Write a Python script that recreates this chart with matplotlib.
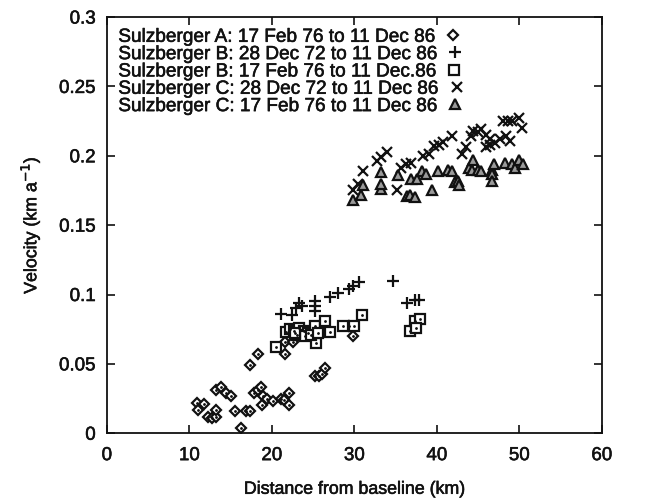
import matplotlib
matplotlib.use('Agg')
import matplotlib.pyplot as plt
import matplotlib.patheffects as pe
import numpy as np

plt.rcParams['font.family'] = ['Liberation Sans', 'DejaVu Sans']

# Sulzberger A: 17 Feb 76 to 11 Dec 86 (diamonds)
a_x = [10.9, 11.8, 11.1, 12.2, 12.7, 13.2, 13.2, 13.2, 13.8, 14.4, 15.1, 15.5, 16.3,
       16.9, 17.4, 17.3, 18.3, 17.8, 18.3, 18.7, 18.9, 18.8, 19.4, 20.1, 21.1, 21.5,
       22.1, 22.1, 21.6, 21.6, 22.5, 25.2, 25.7, 26.1, 26.5, 29.3, 29.8]
a_v = [0.022, 0.021, 0.017, 0.012, 0.011, 0.012, 0.017, 0.031, 0.033, 0.029, 0.027,
       0.016, 0.004, 0.016, 0.016, 0.049, 0.057, 0.029, 0.031, 0.033, 0.027, 0.020,
       0.025, 0.023, 0.025, 0.024, 0.029, 0.020, 0.057, 0.066, 0.066, 0.041, 0.041,
       0.043, 0.047, 0.077, 0.070]

# Sulzberger B: 28 Dec 72 to 11 Dec 86 (plus)
b1_x = [21.1, 22.4, 22.9, 23.3, 23.6, 25.2, 25.2, 25.2, 27.0, 28.0, 29.3, 29.8, 30.6,
        34.7, 36.4, 37.4, 37.8]
b1_v = [0.086, 0.085, 0.090, 0.094, 0.092, 0.095, 0.092, 0.088, 0.098, 0.101, 0.104,
        0.106, 0.109, 0.110, 0.094, 0.096, 0.096]

# Sulzberger B: 17 Feb 76 to 11 Dec 86 (squares)
b2_x = [20.5, 21.7, 22.2, 22.7, 23.3, 23.9, 24.4, 25.2, 25.4, 26.5, 27.0, 28.6, 30.0,
        30.9, 36.7, 37.3, 38.0, 37.5, 23.0, 24.0, 24.8, 25.6, 22.8]
b2_v = [0.062, 0.073, 0.075, 0.074, 0.076, 0.074, 0.072, 0.077, 0.065, 0.081, 0.073,
        0.077, 0.077, 0.085, 0.074, 0.081, 0.082, 0.076, 0.071, 0.070, 0.071, 0.072,
        0.072]

# Sulzberger C: 28 Dec 72 to 11 Dec 86 (x)
c1_x = [29.8, 30.4, 31.0, 32.8, 33.2, 33.9, 35.2, 35.6, 36.2, 36.9, 38.3, 39.0, 39.7,
        40.3, 40.7, 41.8, 43.1, 43.5, 44.1, 44.4, 45.0, 45.4, 45.9, 46.5, 45.9, 46.5,
        47.1, 47.6, 48.4, 48.9, 48.0, 48.6, 49.1, 50.0, 50.3]
c1_v = [0.175, 0.180, 0.189, 0.196, 0.199, 0.203, 0.175, 0.191, 0.194, 0.195, 0.200,
        0.201, 0.207, 0.208, 0.210, 0.214, 0.201, 0.206, 0.214, 0.218, 0.217, 0.219,
        0.215, 0.212, 0.206, 0.208, 0.209, 0.212, 0.214, 0.211, 0.225, 0.225, 0.225,
        0.227, 0.220]

# Sulzberger C: 17 Feb 76 to 11 Dec 86 (triangles)
c2_x = [29.8, 30.8, 31.1, 33.2, 33.2, 33.2, 35.3, 36.4, 36.8, 37.3, 36.9, 37.6, 38.2,
        38.7, 39.4, 40.1, 41.3, 41.8, 42.2, 42.6, 42.7, 43.9, 44.2, 44.4, 45.0, 45.4,
        46.7, 46.7, 46.7, 46.9, 48.3, 49.1, 49.5, 50.0, 50.4]
c2_v = [0.168, 0.172, 0.179, 0.176, 0.180, 0.188, 0.186, 0.171, 0.172, 0.170, 0.183,
        0.183, 0.189, 0.187, 0.175, 0.189, 0.190, 0.189, 0.181, 0.182, 0.179, 0.191,
        0.190, 0.197, 0.190, 0.189, 0.190, 0.187, 0.182, 0.194, 0.195, 0.194, 0.191,
        0.197, 0.194]

labels = ['Sulzberger A: 17 Feb 76 to 11 Dec 86',
          'Sulzberger B: 28 Dec 72 to 11 Dec 86',
          'Sulzberger B: 17 Feb 76 to 11 Dec.86',
          'Sulzberger C: 28 Dec 72 to 11 Dec 86',
          'Sulzberger C: 17 Feb 76 to 11 Dec 86']

ink = '#111111'
heavy = [pe.withStroke(linewidth=0.4, foreground=ink)]

fig = plt.figure(figsize=(6.68, 5.02), dpi=100)
ax = fig.add_axes([0.160, 0.135, 0.741, 0.829])

ax.plot(a_x, a_v, ls='none', marker='D', ms=5.5, mfc='white', mec=ink, mew=1.6, label=labels[0])
ax.plot(b1_x, b1_v, ls='none', marker='+', ms=8, mec=ink, mew=1.6, label=labels[1])
ax.plot(b2_x, b2_v, ls='none', marker='s', ms=6.5, mfc='white', mec=ink, mew=1.6, label=labels[2])
ax.plot(c1_x, c1_v, ls='none', marker='x', ms=7, mec=ink, mew=1.6, label=labels[3])
ax.plot(c2_x, c2_v, ls='none', marker='^', ms=6.5, mfc='#9a9a9a', mec=ink, mew=1.6, label=labels[4])
# small centre dots seen on the hollow symbols
ax.plot(a_x + b2_x, a_v + b2_v, ls='none', marker='.', ms=2, color=ink)

ax.set_xlim(0, 60)
ax.set_ylim(0, 0.3)
ax.set_xticks(np.arange(0, 61, 10))
ax.set_yticks([0, 0.05, 0.1, 0.15, 0.2, 0.25, 0.3])
ax.set_yticklabels(['0', '0.05', '0.1', '0.15', '0.2', '0.25', '0.3'])
ax.tick_params(direction='in', top=True, right=True, length=6, width=1.2,
               labelsize=13.5, colors=ink, pad=8)
ax.tick_params(axis='x', pad=10)
for s in ax.spines.values():
    s.set_linewidth(1.3)
    s.set_color(ink)
for t in ax.get_xticklabels() + ax.get_yticklabels():
    t.set_path_effects(heavy)

ax.set_xlabel('Distance from baseline (km)', fontsize=12.8, color=ink, labelpad=12,
              path_effects=heavy)
ax.set_ylabel('Velocity (km a$^{-1}$)', fontsize=12.8, color=ink, labelpad=12,
              path_effects=heavy)

leg = ax.legend(loc='upper left', frameon=False, markerfirst=False, fontsize=13.7,
                labelspacing=0.0, handletextpad=0.5, handlelength=1.0,
                borderaxespad=0.3, borderpad=0.3)
for col in leg._legend_handle_box.get_children():
    col.align = 'left'
for t in leg.get_texts():
    t.set_color(ink)
    t.set_path_effects(heavy)

fig.savefig('out.png', dpi=100)
